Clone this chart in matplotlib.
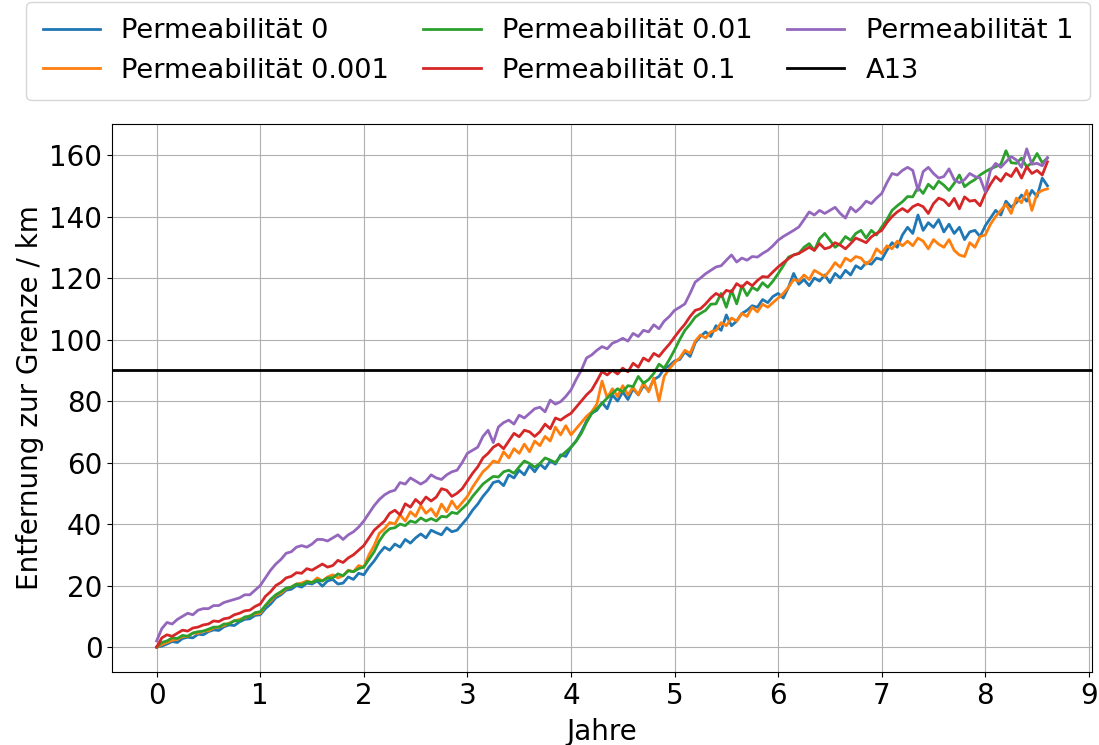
import numpy as np
import matplotlib.pyplot as plt

# time axis in years, 0.05 steps (0 .. 8.6)
jahre = np.round(np.arange(0, 8.601, 0.05), 2)

perm_0 = [0, 0.3, 1, 1.8, 1.5, 2.8, 3.2, 3, 4.2, 4, 5, 5.6, 5.4, 6.6, 7.2, 7, 8.2, 9, 9.2, 10.3,
          10.5, 12.5, 14, 16, 17, 18.5, 18.8, 20, 19.5, 20.8, 20.5, 21.5, 19.8, 21.5, 22, 20.5, 20.8, 22.8, 22, 24,
          23.5, 26, 28, 30.5, 32.5, 31.5, 33.5, 32.5, 35, 33.8, 35.5, 36.8, 35.5, 38, 37.2, 36.5, 38.8, 37.5, 38, 40,
          42, 44.5, 46.5, 49, 51, 53.5, 54, 52.5, 56, 55, 57.5, 56, 59, 57, 59.5, 58, 60.5, 59.5, 62.5, 62,
          65, 67, 70, 73.5, 76, 77, 79.5, 77.5, 82, 80, 83, 80.5, 84, 82, 85, 83.5, 87, 88, 90.5, 91.5,
          93, 93.5, 96, 94.5, 99, 101, 102.5, 101, 104.5, 103, 108, 104.5, 106, 108.5, 109.5, 111, 110.5, 113, 112, 114,
          115, 113.5, 117, 121.5, 118, 119.5, 117.5, 120, 119, 121, 118.5, 121.5, 120, 122.5, 121, 124, 123, 125, 124.5, 126.5,
          126, 129, 131.5, 130, 134, 136.5, 134.5, 140.5, 135.5, 138, 136.5, 139, 135, 137.5, 134.5, 136.5, 132.5, 135, 135.5, 133.5,
          137, 139.5, 142, 140.5, 145, 143, 144.5, 147, 145, 148.5, 146.5, 152.5, 150]

perm_0001 = [0, 0.8, 1.5, 2.2, 2.5, 3.4, 3.5, 4.5, 4.5, 5.2, 5.3, 6.2, 6.5, 7, 7.8, 8.5, 9, 9.5, 10.2, 10.8,
             11, 13.5, 15, 16.8, 17.5, 19, 19.5, 20.5, 20.8, 21.5, 21, 22.5, 21.5, 22.8, 23.5, 22.5, 23.2, 25, 24.5, 26.5,
             26, 30, 33, 37, 38.5, 40.5, 40, 43, 41, 44, 42.5, 46, 43.5, 45, 42.5, 46.5, 44, 47.5, 45, 47,
             49, 52, 54.5, 57, 58.5, 60.5, 60, 63.5, 61.5, 64.5, 63, 66, 63.5, 67, 65.5, 68.5, 67, 71.5, 69, 72,
             69, 71, 73, 75, 76.5, 79, 86.5, 81, 84, 81.5, 85, 82, 84.5, 82, 86, 83, 87.5, 80, 88, 90.5,
             92.5, 94, 96.5, 95.5, 99.5, 101.5, 100.5, 102.5, 103, 105.5, 104.5, 107, 106, 108.5, 107.5, 110.5, 109, 111.5, 110.5, 112,
             113.5, 115, 117, 119.5, 119, 121, 119.5, 122.5, 121.5, 120.5, 122.5, 125, 123.5, 126.5, 125.5, 127, 126.5, 124.5, 126, 129.5,
             128, 130.5, 129.5, 132, 130.5, 132, 130.5, 133, 132, 129.5, 132.5, 131, 130, 132.5, 129, 127.5, 127, 131.5, 130, 133.5,
             134, 137.5, 140, 142, 144, 141, 146, 144.5, 148.5, 142, 147.5, 148.5, 149]

perm_001 = [0, 1.5, 2, 3, 2.8, 3.8, 3.5, 4.6, 5, 5.2, 5.8, 6.5, 6.5, 7.5, 7.5, 8.6, 8.5, 9.8, 10, 11.2,
            11.5, 13.5, 15.5, 17, 18, 19.2, 19.5, 20.5, 20.2, 21.2, 21, 21.8, 21.5, 22.5, 22.5, 23.8, 23.2, 24.8, 24.5, 25.5,
            26, 28.5, 31, 34.5, 37, 38.5, 38.8, 40, 39.5, 41, 40.5, 42, 41, 41.8, 41, 42.5, 42.3, 43.8, 43.4, 45,
            46.6, 49, 51, 53, 54.3, 55.5, 55.3, 57, 57.5, 56.5, 58.6, 60.5, 59.7, 58.5, 59.7, 61.5, 60.8, 60, 62, 63.5,
            65, 67, 69.5, 73, 76, 77.5, 79.2, 81, 82.5, 84, 83, 85, 84.7, 88, 85.8, 87, 89, 92, 90.7, 93.5,
            96.6, 100, 103, 105, 107.3, 108.5, 109.5, 111.5, 111.6, 115, 110.5, 116, 111.6, 117.5, 114.3, 117, 116, 118.5, 117, 119,
            121.4, 124, 126.8, 127.5, 128, 130, 131.2, 129, 132.8, 134.5, 132.3, 130, 131.2, 133.5, 132.3, 134.5, 135.5, 133, 135.5, 134,
            136.6, 139, 142, 143.5, 144.8, 146.5, 146.4, 149.5, 147.5, 150.5, 149, 151.5, 150.2, 148.5, 150.8, 153.5, 149.7, 151, 152, 153.5,
            154.6, 155.5, 156.2, 157, 161.4, 157.5, 157.3, 159, 156.2, 157.5, 160.5, 157.5, 159]

perm_01 = [0, 3, 4, 3.5, 4.5, 5.5, 5.2, 6.2, 6.5, 7.2, 7.5, 8.5, 8.3, 9.2, 9.5, 10.5, 11, 11.8, 12, 13.2,
           14, 16.5, 18, 20, 21, 22.5, 23, 24.2, 24, 25.5, 25, 26, 27, 26, 26.5, 28.2, 27.5, 29, 30, 31.5,
           33, 35.5, 38, 39.5, 41, 43.5, 44.5, 43, 46.6, 45.5, 48, 46.5, 48.8, 47.5, 48.8, 51.5, 51, 49, 50, 51.5,
           54, 56.5, 58.6, 61.5, 63, 65, 66, 64.5, 67, 69.5, 68.4, 70.5, 70, 68.5, 70, 72.5, 71, 74.5, 73.8, 75,
           76, 78, 80, 82, 83.6, 86.5, 89.6, 88.5, 90, 88.8, 90.7, 89.5, 92.3, 91, 94, 93, 95.5, 94.5, 96.6, 98.5,
           100.8, 103, 105, 107.5, 109.5, 110, 111.6, 113.5, 115, 114, 116, 115.5, 118.2, 117, 118.7, 117.5, 119.2, 120.5, 120.3, 122,
           123.6, 125, 126.3, 127.5, 128, 129, 130, 129, 131.2, 129.5, 130, 131.5, 130.7, 129.5, 131.2, 133, 132.3, 131.5, 133.4, 134.5,
           135.5, 138, 140, 141.5, 142.6, 141.5, 143.2, 144, 143.2, 141, 144.2, 146, 145.3, 143.5, 145.9, 142.5, 146.4, 145, 145.3, 143.5,
           147.5, 150.5, 153, 151.5, 154, 153, 155.7, 152.5, 156.2, 154, 155, 153.5, 157.8]

perm_1 = [2, 6, 8, 7.5, 9, 10, 11, 10.5, 12, 12.5, 12.5, 13.5, 13.5, 14.5, 15, 15.5, 16, 17, 17, 18.5,
          20, 22.5, 25, 27, 28.5, 30.5, 31, 32.5, 33, 32.5, 33.5, 35, 35, 34.5, 35.5, 36.5, 35, 36.5, 37.5, 39,
          41, 43.5, 46, 48, 49.5, 50.5, 51, 53.5, 53, 55, 54, 53, 54, 56, 55, 54.5, 56, 57, 57.5, 60,
          63, 64, 65, 68.5, 70.5, 66.5, 71.6, 73, 73.8, 72.5, 75.4, 74.5, 76, 77.5, 78, 76.5, 80.3, 79, 79.8, 81.5,
          83.6, 87, 90, 94, 95, 96.5, 97.7, 97, 98.8, 99.5, 100.4, 99.5, 102, 101, 103, 102.5, 104.8, 103.5, 106, 107.5,
          109.5, 110.5, 111.6, 115, 118.7, 120, 121.4, 122.5, 123.6, 124, 125.8, 127.5, 125.2, 126.5, 125.8, 127, 126.8, 128, 129, 130.5,
          132.3, 133.5, 134.5, 135.5, 136.6, 139, 141.5, 140.5, 142, 141, 142, 143, 141, 139.5, 143, 141.5, 143, 145, 144.2, 146,
          147.5, 151, 154, 153.5, 155, 156, 155, 148.5, 154.6, 156, 154, 152.5, 153, 155.5, 152, 151, 152, 154, 153, 152.5,
          148, 155, 157.3, 156, 157.8, 159.5, 158.4, 156, 162, 157, 157.3, 156.5, 159.2]

labels = ['Permeabilität 0', 'Permeabilität 0.001', 'Permeabilität 0.01',
          'Permeabilität 0.1', 'Permeabilität 1']
a13 = 90

fig = plt.figure(figsize=(10.99, 7.45), dpi=100)
ax = fig.add_axes([0.102, 0.098, 0.8916, 0.7356])

for series, label in zip([perm_0, perm_0001, perm_001, perm_01, perm_1], labels):
    ax.plot(jahre, series, lw=2, label=label)
ax.axhline(a13, color='black', lw=2, label='A13')

ax.set_xticks(range(0, 10))
ax.grid(True)
ax.tick_params(labelsize=20)
ax.set_xlabel('Jahre', fontsize=20, labelpad=6)
ax.set_ylabel('Entfernung zur Grenze / km', fontsize=20)

fig.legend(loc='upper center', bbox_to_anchor=(0.5077, 1.0157), ncol=3,
           fontsize=19.6, columnspacing=1.25, handlelength=2.1, borderpad=0.6)

fig.savefig('out.png')
